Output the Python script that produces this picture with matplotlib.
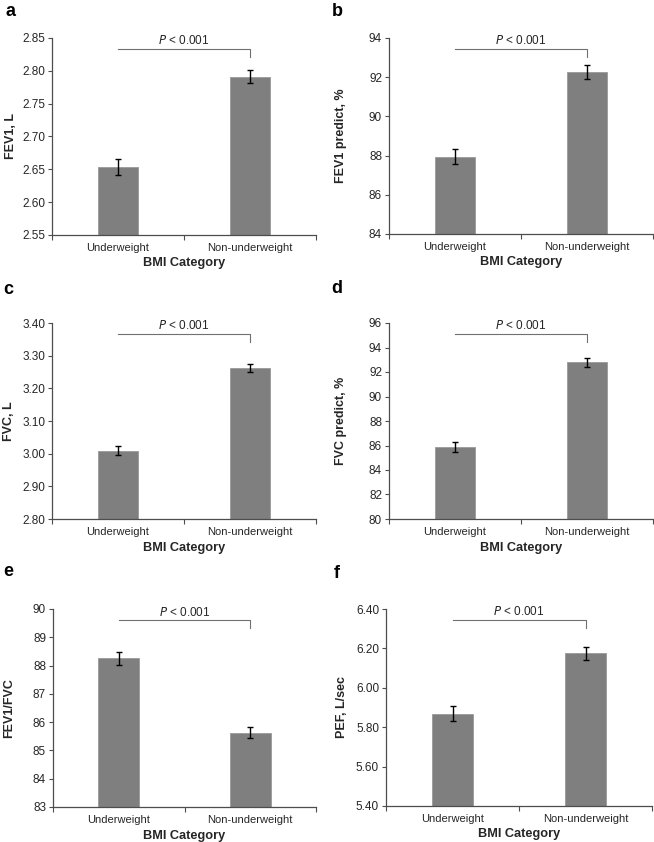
import matplotlib
matplotlib.use("Agg")
import matplotlib.pyplot as plt
import matplotlib.transforms as mtransforms
import numpy as np

plt.rcParams["font.family"] = ["Liberation Sans", "DejaVu Sans"]

categories = ["Underweight", "Non-underweight"]

panel_letters = ["a", "b", "c", "d", "e", "f"]
y_labels = ["FEV1, L", "FEV1 predict, %", "FVC, L", "FVC predict, %", "FEV1/FVC", "PEF, L/sec"]

fev1_means = [2.654, 2.791]
fev1_errs = [0.012, 0.010]
fev1_pred_means = [87.95, 92.25]
fev1_pred_errs = [0.40, 0.35]
fvc_means = [3.009, 3.261]
fvc_errs = [0.014, 0.012]
fvc_pred_means = [85.9, 92.78]
fvc_pred_errs = [0.40, 0.35]
ratio_means = [88.26, 85.63]
ratio_errs = [0.23, 0.20]
pef_means = [5.869, 6.175]
pef_errs = [0.037, 0.034]

all_means = [fev1_means, fev1_pred_means, fvc_means, fvc_pred_means, ratio_means, pef_means]
all_errs = [fev1_errs, fev1_pred_errs, fvc_errs, fvc_pred_errs, ratio_errs, pef_errs]

y_ticks = [
    [2.55, 2.60, 2.65, 2.70, 2.75, 2.80, 2.85],
    [84, 86, 88, 90, 92, 94],
    [2.80, 2.90, 3.00, 3.10, 3.20, 3.30, 3.40],
    [80, 82, 84, 86, 88, 90, 92, 94, 96],
    [83, 84, 85, 86, 87, 88, 89, 90],
    [5.40, 5.60, 5.80, 6.00, 6.20, 6.40],
]
tick_formats = ["{:.2f}", "{:.0f}", "{:.2f}", "{:.0f}", "{:.0f}", "{:.2f}"]
p_text = "$\\mathit{P}$ < 0.001"

# layout in pixels: (left, top, right, bottom)
W, H = 654, 842
boxes = [
    (52, 38, 316, 235),
    (389, 38, 653, 234),
    (52, 323, 316, 519),
    (389, 323, 653, 519),
    (53, 609, 316, 807),
    (386, 609, 652, 806),
]
# right edge of the rotated y label, in pixels
ylabel_x = [17, 347, 15, 347, 15, 348]
letter_pos = [(10, 12), (337, 12), (8, 290), (337, 289), (8, 572), (337, 574)]

fig = plt.figure(figsize=(W / 100, H / 100), dpi=100)

bar_color = "#7f7f7f"
axis_color = "#4d4d4d"
text_color = "#262626"

for i in range(6):
    left, top, right, bottom = boxes[i]
    ax = fig.add_axes([left / W, 1 - bottom / H, (right - left) / W, (bottom - top) / H])
    x = np.arange(len(categories))
    ax.bar(x, all_means[i], width=0.31, color=bar_color, edgecolor="#9a9a9a",
           linewidth=0.6, zorder=2)
    ax.errorbar(x, all_means[i], yerr=all_errs[i], fmt="none", ecolor="black",
                elinewidth=1.0, capsize=2.2, capthick=1.0, zorder=3)

    ax.set_xlim(-0.5, 1.5)
    ax.set_ylim(y_ticks[i][0], y_ticks[i][-1])
    ax.set_yticks(y_ticks[i])
    ax.set_yticklabels([tick_formats[i].format(v) for v in y_ticks[i]],
                       fontsize=8.5, color=text_color)
    ax.set_xticks(x)
    ax.set_xticklabels(categories, fontsize=8, color=text_color)
    ax.set_xticks([-0.5, 0.5, 1.5], minor=True)
    ax.tick_params(axis="x", which="major", length=0, pad=6)
    ax.tick_params(axis="x", which="minor", length=3.5, direction="out",
                   color=axis_color, width=0.8)
    ax.tick_params(axis="y", length=3, direction="out", color=axis_color,
                   width=0.8, pad=2)

    for side in ["top", "right"]:
        ax.spines[side].set_visible(False)
    for side in ["left", "bottom"]:
        ax.spines[side].set_color(axis_color)
        ax.spines[side].set_linewidth(0.9)

    ax.set_xlabel("BMI Category", fontsize=9.2, fontweight="bold", color=text_color,
                  labelpad=3)
    ax.set_ylabel(y_labels[i], fontsize=9, fontweight="bold", color=text_color)
    ax.yaxis.set_label_coords((ylabel_x[i] - left) / (right - left), 0.5)

    # significance bracket
    trans = mtransforms.blended_transform_factory(ax.transData, ax.transAxes)
    ax.plot([x[0], x[1], x[1]], [0.944, 0.944, 0.904], color="#707070",
            linewidth=0.8, transform=trans, clip_on=False, zorder=4)
    ax.text((x[0] + x[1]) / 2, 0.952, p_text, transform=trans, ha="center",
            va="bottom", fontsize=8.5, color=text_color)

    lx, ly = letter_pos[i]
    fig.text(lx / W, 1 - ly / H, panel_letters[i], fontsize=13, fontweight="bold",
             ha="center", va="center", color="black")

fig.savefig("out.png", dpi=100)
